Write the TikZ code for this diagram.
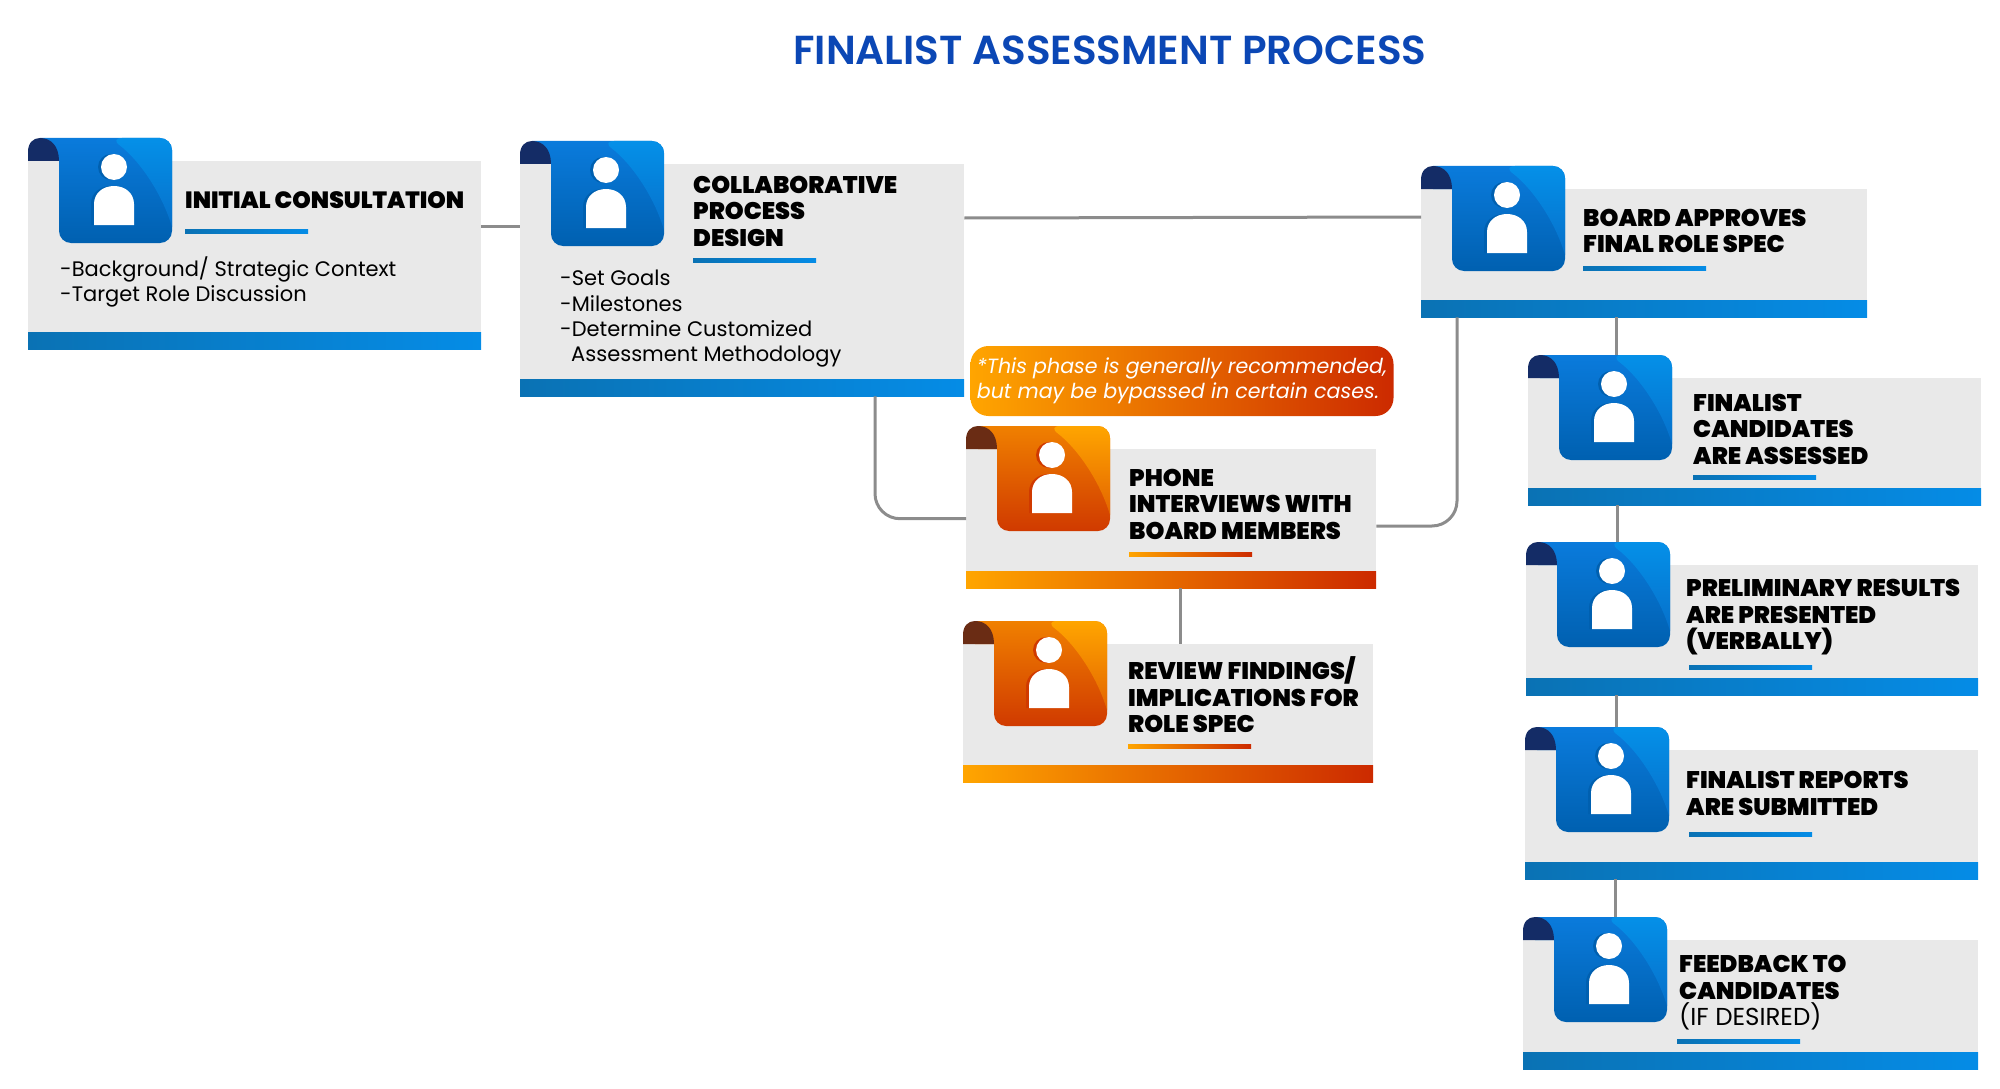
\documentclass[tikz,border=0pt]{standalone}
\usepackage{fontspec}
\setmainfont{Poppins}
\newfontfamily\headfont{Poppins Black}
\newfontfamily\titlefont{Poppins SemiBold}

\definecolor{titleblue}{HTML}{0B47B5}
\definecolor{bluehi}{HTML}{0A7BDC}
\definecolor{bluelo}{HTML}{0060B0}
\definecolor{blueshine}{HTML}{0590E8}
\definecolor{bluetab}{HTML}{142C66}
\definecolor{bluebarl}{HTML}{0A72B4}
\definecolor{bluebarr}{HTML}{058CE6}
\definecolor{orangehi}{HTML}{F08000}
\definecolor{orangelo}{HTML}{D03A00}
\definecolor{orangeshine}{HTML}{FFA500}
\definecolor{orangetab}{HTML}{6A2C14}
\definecolor{orangebarl}{HTML}{FFA500}
\definecolor{orangebarr}{HTML}{CC2A00}

\tikzset{
  panel/.style={fill=black!8.5, inner sep=0pt, anchor=north west},
  head/.style={anchor=west, align=left, inner sep=0pt, text=black,
    font=\fontsize{24}{26.5}\selectfont\headfont},
  body/.style={anchor=west, align=left, inner sep=0pt, text=black,
    font=\fontsize{21}{25.3}\selectfont},
  link/.style={draw=black!45, line width=3pt}
}

% one card: name, left, top, right, bottom, colour set
\newcommand{\card}[6]{
  \node[panel, minimum width={(#4-#2)*1pt}, minimum height={(#5-#3)*1pt}] (#1) at (#2,#3) {};
  \shade[left color=#6barl, right color=#6barr] (#2,#5-17) rectangle (#4,#5);
  \coordinate (#1icon) at (#2+31,#3-23);
  \begin{scope}[shift={(#1icon)}]
    \shade[top color=#6hi, bottom color=#6lo] (-19,0) [rounded corners=12] -- (113,0) -- (113,105) -- (0,105) -- (0,40) [sharp corners] -- (0,23) -- (-19,23) -- cycle;
    \shade[top color=#6shine, bottom color=#6lo!40!#6hi] (51,0) .. controls (80,22) and (103,55) .. (113,89) [rounded corners=12] -- (113,0) -- cycle;
    \fill[#6tab] (-31,23) -- (-31,14) .. controls (-31,5) and (-26,0) .. (-19,0) .. controls (-8,0) and (0,8) .. (0,23) -- cycle;
    \foreach \dx/\col in {-3/#6lo, 0/white}{
      \fill[\col] (55+\dx,29) circle (13);
      \fill[\col] (35+\dx,87) -- (35+\dx,66) .. controls (35+\dx,55) and (44+\dx,48) .. (55+\dx,48) .. controls (66+\dx,48) and (75+\dx,55) .. (75+\dx,66) -- (75+\dx,87) -- cycle;
    }
  \end{scope}
}
% short rule under a heading: left, y, colour set
\newcommand{\headrule}[3]{
  \shade[left color=#3barl, right color=#3barr] (#1,#2-2) rectangle (#1+123,#2+2);
}

\begin{document}
\begin{tikzpicture}[x=1pt, y=-1pt]
  \useasboundingbox (0,0) rectangle (2000,1089);

  \node[font=\fontsize{40.5}{44}\selectfont\titlefont, text=titleblue, inner sep=0pt] (title) at (1110,50) {FINALIST ASSESSMENT PROCESS};

  \card{init}{28}{161}{481}{349}{blue}
  \card{collab}{520}{164}{964}{396}{blue}
  \card{board}{1421}{189}{1867}{317}{blue}
  \card{assess}{1528}{378}{1981}{505}{blue}
  \card{prelim}{1526}{565}{1978}{695}{blue}
  \card{report}{1525}{750}{1978}{879}{blue}
  \card{feedback}{1523}{940}{1978}{1069}{blue}
  \card{phone}{966}{449}{1376}{588}{orange}
  \card{review}{963}{644}{1373}{782}{orange}

  \node[head, font=\fontsize{23.5}{26.5}\selectfont\headfont] (inithead) at (185,200) {INITIAL CONSULTATION};
  \headrule{185}{231}{blue}
  \node[body] (initbody) at (60,282) {-Background/ Strategic Context\\-Target Role Discussion};

  \node[head] (collabhead) at (693,211) {COLLABORATIVE\\PROCESS\\DESIGN};
  \headrule{693}{260}{blue}
  \node[body] (collabbody) at (560,319) {-Set Goals\\-Milestones\\-Determine Customized\\\hspace*{11pt}Assessment Methodology};

  \node[head] (boardhead) at (1583,231) {BOARD APPROVES\\FINAL ROLE SPEC};
  \headrule{1583}{268}{blue}

  \node[head] (assesshead) at (1693,429) {FINALIST\\CANDIDATES\\ARE ASSESSED};
  \headrule{1693}{477}{blue}

  \node[head] (prelimhead) at (1686,617.5) {PRELIMINARY RESULTS\\ARE PRESENTED\\(VERBALLY)};
  \headrule{1689}{667}{blue}

  \node[head] (reporthead) at (1686,793.5) {FINALIST REPORTS\\ARE SUBMITTED};
  \headrule{1689}{834}{blue}

  \node[head] (feedbackhead) at (1679,993) {FEEDBACK TO\\CANDIDATES\\{\fontsize{24.5}{26.5}\selectfont\normalfont (IF DESIRED)}};
  \headrule{1677}{1041}{blue}

  \node[head] (phonehead) at (1129,504) {PHONE\\INTERVIEWS WITH\\BOARD MEMBERS};
  \headrule{1129}{554}{orange}

  \node[head] (reviewhead) at (1128,695) {REVIEW FINDINGS/\\IMPLICATIONS FOR\\ROLE SPEC};
  \headrule{1128}{746}{orange}

  \node[left color=orangebarl, right color=orangebarr, rounded corners=18, inner sep=0pt, minimum width=423pt, minimum height=70pt, text=white, align=left, font=\fontsize{20.6}{25.5}\selectfont\itshape] (note) at (1182,381) {*This phase is generally recommended,\\but may be bypassed in certain cases.};

  \draw[link] (init.east |- 0,226) -- (collab.west |- 0,226);
  \draw[link] (collab.east |- 0,218) -- (board.west |- 0,217);
  \draw[link, rounded corners=25] (875,0 |- collab.south) |- (phone.west);
  \draw[link, rounded corners=25] (phone.east |- 0,526) -| (1457,0 |- board.south);
  \draw[link] (1180,0 |- phone.south) -- (1180,0 |- review.north);
  \draw[link] (1616,0 |- board.south) -- (1616,0 |- assessicon);
  \draw[link] (1617,0 |- assess.south) -- (1617,0 |- prelimicon);
  \draw[link] (1616,0 |- prelim.south) -- (1616,0 |- reporticon);
  \draw[link] (1615,0 |- report.south) -- (1615,0 |- feedbackicon);
\end{tikzpicture}
\end{document}
